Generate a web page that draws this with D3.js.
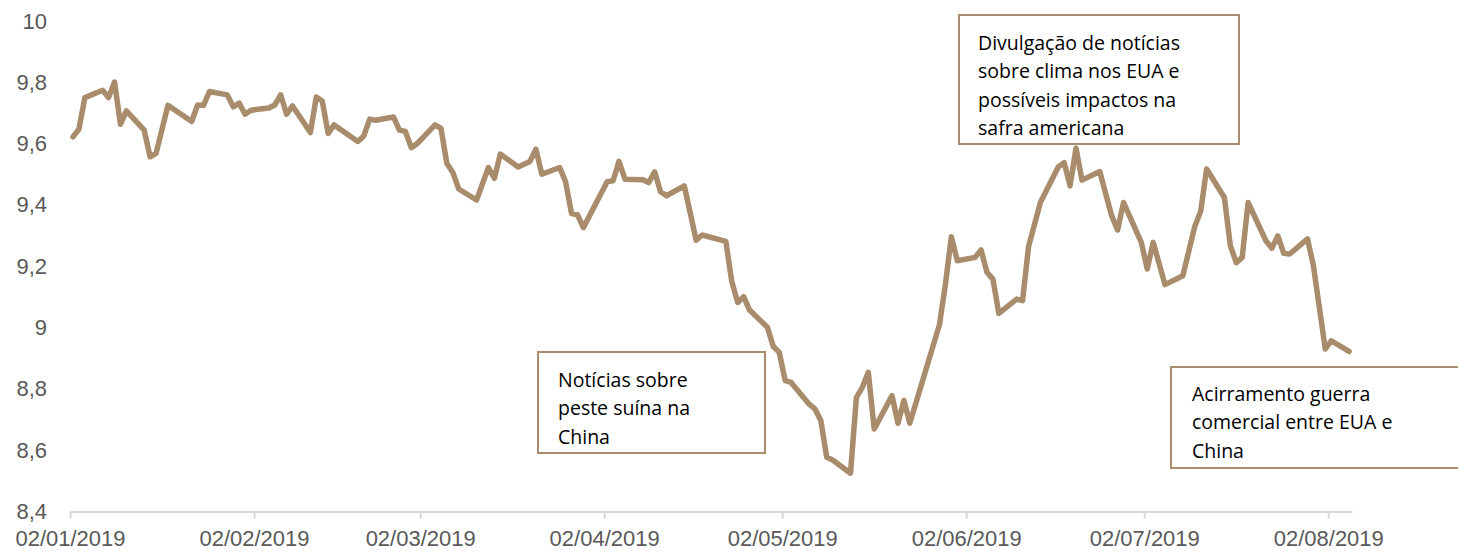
<!DOCTYPE html>
<html>
<head>
<meta charset="utf-8">
<script src="https://cdn.jsdelivr.net/npm/d3@7"></script>
<style>
  body { margin: 0; background: #fff; }
  svg { display: block; font-family: "Open Sans", sans-serif; }
</style>
</head>
<body>
<svg id="chart" width="1458" height="552"></svg>
<script>
const DATES = [
  "2019-01-02", "2019-01-03", "2019-01-04", "2019-01-07", "2019-01-08", "2019-01-09",
  "2019-01-10", "2019-01-11", "2019-01-14", "2019-01-15", "2019-01-16", "2019-01-18",
  "2019-01-22", "2019-01-23", "2019-01-24", "2019-01-25", "2019-01-28", "2019-01-29",
  "2019-01-30", "2019-01-31", "2019-02-01", "2019-02-04", "2019-02-05", "2019-02-06",
  "2019-02-07", "2019-02-08", "2019-02-11", "2019-02-12", "2019-02-13", "2019-02-14",
  "2019-02-15", "2019-02-19", "2019-02-20", "2019-02-21", "2019-02-22", "2019-02-25",
  "2019-02-26", "2019-02-27", "2019-02-28", "2019-03-01", "2019-03-04", "2019-03-05",
  "2019-03-06", "2019-03-07", "2019-03-08", "2019-03-11", "2019-03-13", "2019-03-14",
  "2019-03-15", "2019-03-18", "2019-03-20", "2019-03-21", "2019-03-22", "2019-03-25",
  "2019-03-26", "2019-03-27", "2019-03-28", "2019-03-29", "2019-04-02", "2019-04-03",
  "2019-04-04", "2019-04-05", "2019-04-08", "2019-04-09", "2019-04-10", "2019-04-11",
  "2019-04-12", "2019-04-15", "2019-04-17", "2019-04-18", "2019-04-22", "2019-04-23",
  "2019-04-24", "2019-04-25", "2019-04-26", "2019-04-29", "2019-04-30", "2019-05-01",
  "2019-05-02", "2019-05-03", "2019-05-06", "2019-05-07", "2019-05-08", "2019-05-09",
  "2019-05-10", "2019-05-13", "2019-05-14", "2019-05-15", "2019-05-16", "2019-05-17",
  "2019-05-20", "2019-05-21", "2019-05-22", "2019-05-23", "2019-05-28", "2019-05-29",
  "2019-05-30", "2019-05-31", "2019-06-03", "2019-06-04", "2019-06-05", "2019-06-06",
  "2019-06-07", "2019-06-10", "2019-06-11", "2019-06-12", "2019-06-14", "2019-06-17",
  "2019-06-18", "2019-06-19", "2019-06-20", "2019-06-21", "2019-06-24", "2019-06-26",
  "2019-06-27", "2019-06-28", "2019-07-01", "2019-07-02", "2019-07-03", "2019-07-05",
  "2019-07-08", "2019-07-10", "2019-07-11", "2019-07-12", "2019-07-15", "2019-07-16",
  "2019-07-17", "2019-07-18", "2019-07-19", "2019-07-22", "2019-07-23", "2019-07-24",
  "2019-07-25", "2019-07-26", "2019-07-29", "2019-07-30", "2019-08-01", "2019-08-02",
  "2019-08-05"
];
const VALUES = [
  9.622, 9.647, 9.750, 9.774, 9.750, 9.801,
  9.663, 9.707, 9.644, 9.557, 9.568, 9.725,
  9.672, 9.726, 9.725, 9.770, 9.759, 9.720,
  9.732, 9.696, 9.709, 9.716, 9.726, 9.759,
  9.696, 9.723, 9.636, 9.752, 9.739, 9.633,
  9.661, 9.607, 9.625, 9.680, 9.676, 9.687,
  9.644, 9.640, 9.587, 9.600, 9.661, 9.650,
  9.535, 9.506, 9.452, 9.416, 9.522, 9.487,
  9.566, 9.524, 9.542, 9.582, 9.500, 9.522,
  9.476, 9.372, 9.368, 9.326, 9.476, 9.479,
  9.542, 9.484, 9.482, 9.473, 9.508, 9.443,
  9.430, 9.462, 9.285, 9.302, 9.281, 9.150,
  9.082, 9.101, 9.057, 9.001, 8.938, 8.919,
  8.827, 8.821, 8.751, 8.735, 8.697, 8.577,
  8.568, 8.525, 8.772, 8.805, 8.854, 8.669,
  8.778, 8.688, 8.762, 8.688, 9.010, 9.142,
  9.296, 9.218, 9.229, 9.253, 9.180, 9.158,
  9.046, 9.093, 9.088, 9.264, 9.408, 9.524,
  9.538, 9.462, 9.585, 9.481, 9.509, 9.365,
  9.318, 9.408, 9.278, 9.191, 9.278, 9.140,
  9.169, 9.329, 9.379, 9.517, 9.424, 9.267,
  9.212, 9.229, 9.408, 9.283, 9.259, 9.299,
  9.242, 9.240, 9.289, 9.202, 8.930, 8.957,
  8.922
];
const X_TICKS = ["2019-01-02", "2019-02-02", "2019-03-02", "2019-04-02",
  "2019-05-02", "2019-06-02", "2019-07-02", "2019-08-02"];
const Y_TICKS = [8.4, 8.6, 8.8, 9, 9.2, 9.4, 9.6, 9.8, 10];
const NOTES = [
  { lines: ["Divulgação de notícias", "sobre clima nos EUA e", "possíveis impactos na", "safra americana"],
    box: [959, 15, 280, 129], textX: 978, firstY: 43 },
  { lines: ["Notícias sobre", "peste suína na", "China"],
    box: [538, 352, 227, 101], textX: 558, firstY: 380 },
  { lines: ["Acirramento guerra", "comercial entre EUA e", "China"],
    box: [1171, 367, 290, 101], textX: 1192, firstY: 394 },
];

const LINE_COLOR = "#A98C6B";
const parse = d3.timeParse("%Y-%m-%d");
const data = DATES.map((d, i) => ({ date: parse(d), value: VALUES[i] }));

const svg = d3.select("#chart");

const x = d3.scaleTime()
  .domain([parse("2019-01-02"), parse("2019-08-06")])
  .range([70, 1352]);
const y = d3.scaleLinear().domain([8.4, 10]).range([511.5, 21]);

// points sit in the middle of their day, like Excel's date axis
const xMid = (d) => x(d3.timeHour.offset(d, 12));

const xAxis = svg.append("g")
  .attr("transform", "translate(0,511.5)")
  .call(
    d3.axisBottom(x)
      .tickValues(X_TICKS.map(parse))
      .tickFormat(d3.timeFormat("%d/%m/%Y"))
      .tickSize(7)
      .tickSizeOuter(0)
      .tickPadding(12)
  );
xAxis.select(".domain").attr("stroke", "#D9D9D9").attr("stroke-width", 2);
xAxis.selectAll(".tick line").attr("stroke", "#D9D9D9").attr("stroke-width", 2);
xAxis.selectAll(".tick text")
  .attr("fill", "#595959")
  .style("font-size", "22px");

const yAxis = svg.append("g")
  .attr("transform", "translate(47,0)")
  .call(
    d3.axisLeft(y)
      .tickValues(Y_TICKS)
      .tickFormat((d) => String(+d.toFixed(1)).replace(".", ","))
      .tickSize(0)
      .tickPadding(0)
  );
yAxis.select(".domain").remove();
yAxis.selectAll(".tick text")
  .attr("fill", "#595959")
  .style("font-size", "22px");

svg.append("path")
  .datum(data)
  .attr("fill", "none")
  .attr("stroke", LINE_COLOR)
  .attr("stroke-width", 5.5)
  .attr("stroke-linejoin", "round")
  .attr("stroke-linecap", "round")
  .attr("d", d3.line().x((d) => xMid(d.date)).y((d) => y(d.value)));

const notes = svg.selectAll("g.note")
  .data(NOTES)
  .enter()
  .append("g")
  .attr("class", "note");

notes.append("rect")
  .attr("x", (d) => d.box[0])
  .attr("y", (d) => d.box[1])
  .attr("width", (d) => d.box[2])
  .attr("height", (d) => d.box[3])
  .attr("fill", "#fff")
  .attr("stroke", LINE_COLOR)
  .attr("stroke-width", 2);

notes.each(function (d) {
  d3.select(this)
    .selectAll("text")
    .data(d.lines)
    .enter()
    .append("text")
    .attr("x", d.textX)
    .attr("y", (t, i) => d.firstY + i * 28.5)
    .attr("dy", "0.35em")
    .attr("fill", "#000")
    .style("font-size", "19.5px")
    .text((t) => t);
});
</script>
</body>
</html>
